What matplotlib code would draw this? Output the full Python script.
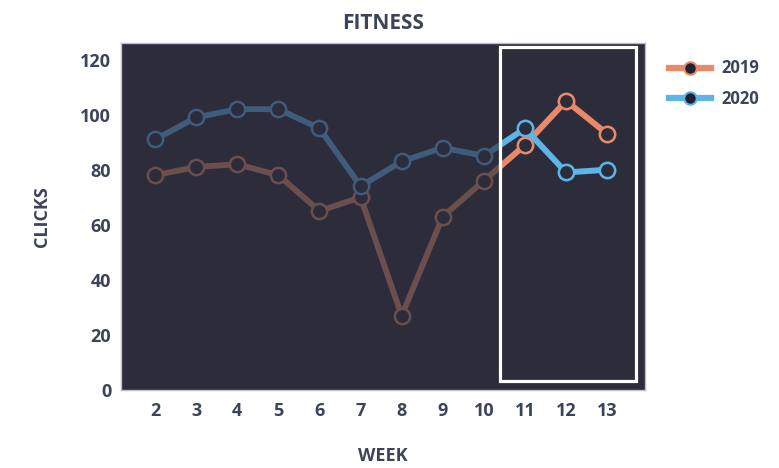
import matplotlib
matplotlib.use("Agg")
import matplotlib.pyplot as plt
from matplotlib.patches import Rectangle
from matplotlib.lines import Line2D

weeks = [2, 3, 4, 5, 6, 7, 8, 9, 10, 11, 12, 13]
clicks_2019 = [78, 81, 82, 78, 65, 70, 27, 63, 76, 89, 105, 93]
clicks_2020 = [91, 99, 102, 102, 95, 74, 83, 88, 85, 95, 79, 80]
series_names = ["2019", "2020"]
y_ticks = [0, 20, 40, 60, 80, 100, 120]

bg = "#2c2c3b"
text_col = "#3b4459"
bright = {"2019": "#e8896a", "2020": "#5db5e6"}
dim = {"2019": "#6c4f4d", "2020": "#3f5c7c"}

plt.rcParams["font.family"] = ["Open Sans", "DejaVu Sans"]

fig = plt.figure(figsize=(7.79, 4.68), dpi=100)
ax = fig.add_axes([0.1553, 0.1667, 0.8280 - 0.1553, 0.908 - 0.1667])
ax.set_facecolor(bg)
ax.set_xlim(1.17, 13.92)
ax.set_ylim(0, 126)

# highlight window for the latest weeks
box = Rectangle((10.39, 3.3), 13.70 - 10.39, 124.7 - 3.3, fill=False,
                edgecolor="white", linewidth=2.3, zorder=5)
ax.add_patch(box)

for name, vals in zip(series_names, [clicks_2019, clicks_2020]):
    ax.plot(weeks, vals, color=dim[name], lw=4.2, marker="o", ms=11,
            mfc=bg, mec=dim[name], mew=1.8, zorder=3, solid_capstyle="round")
    hi, = ax.plot(weeks, vals, color=bright[name], lw=4.2, marker="o", ms=11,
                  mfc=bg, mec=bright[name], mew=1.8, zorder=4,
                  solid_capstyle="round")
    hi.set_clip_path(box)

ax.set_xticks(weeks)
ax.set_yticks(y_ticks)
ax.tick_params(length=0, labelsize=13, labelcolor=text_col)
ax.tick_params(axis="x", pad=9)
ax.tick_params(axis="y", pad=7)
for lab in ax.get_xticklabels() + ax.get_yticklabels():
    lab.set_fontweight("bold")
for s in ax.spines.values():
    s.set_color("#b8bcc4")
    s.set_linewidth(1.0)

ax.set_xlabel("WEEK", fontsize=13, fontweight="bold", color=text_col, labelpad=19)
ax.set_ylabel("CLICKS", fontsize=13, fontweight="bold", color=text_col, labelpad=21)
ax.set_title("FITNESS", fontsize=15, fontweight="bold", color=text_col, pad=10)

handles = [Line2D([0], [0], color=bright[n], lw=4.5, marker="o", ms=9,
                  mfc="#1f2230", mec=bright[n], mew=1.5) for n in series_names]
leg = fig.legend(handles, series_names, loc="upper left",
                 bbox_to_anchor=(0.84, 0.905), frameon=False,
                 handlelength=2.5, labelspacing=0.75, fontsize=12,
                 handletextpad=0.6)
for t in leg.get_texts():
    t.set_color(text_col)
    t.set_fontweight("bold")

fig.savefig("out.png", dpi=100, facecolor="white")
